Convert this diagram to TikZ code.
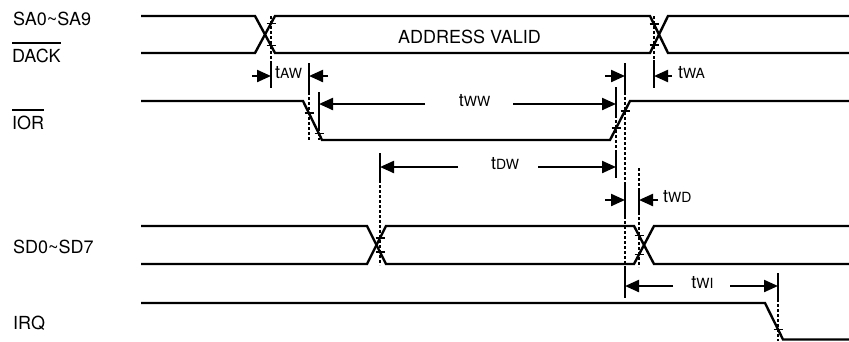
\documentclass[tikz,border=0pt]{standalone}
\usepackage{fontspec}
\setmainfont{TeX Gyre Heros}
\usetikzlibrary{arrows.meta}
\newcommand\tlab[1]{t{\fontsize{14}{14}\selectfont #1}}
\newcommand\ovl[1]{\vbox{\hrule height 1.6pt \kern 4.5pt \hbox{#1}}}
\begin{document}
\begin{tikzpicture}[x=1pt,y=-1pt,
  sig/.style={line width=2.4pt},
  ext/.style={line width=2pt},
  dsh/.style={line width=1.6pt, dash pattern=on 3pt off 2pt},
  arr/.style={line width=2.2pt, -{Triangle[length=14pt,width=12pt]}},
  tk/.style={line width=1.7pt},
  lab/.style={inner sep=0pt, font=\fontsize{18}{20}\selectfont},
  tlb/.style={inner sep=0pt, font=\fontsize{18}{18}\selectfont}]
\useasboundingbox (0,0) rectangle (849,341);
% signal labels
\node[lab, anchor=base west] (sa) at (13,25) {SA0\textasciitilde SA9};
\node[lab, anchor=base west] (dack) at (12,62) {\ovl{DACK}};
\node[lab, anchor=base west] (ior) at (12,129) {\ovl{IOR}};
\node[lab, anchor=base west] (sd) at (13,253) {SD0\textasciitilde SD7};
\node[lab, anchor=base west] (irq) at (13,329) {IRQ};
\node[lab, anchor=base] (addr) at (469.5,43) {ADDRESS VALID};
% signals
\draw[sig] (141,16) -- (255,16) -- (275,53) -- (650,53) -- (668,16) -- (849,16);
\draw[sig] (141,53) -- (255,53) -- (275,16) -- (650,16) -- (668,53) -- (849,53);
\draw[sig] (141,101) -- (303,101) -- (322,140) -- (610,140) -- (630,101) -- (849,101);
\draw[sig] (141,226) -- (367,226) -- (386,264) -- (634,264) -- (654,226) -- (849,226);
\draw[sig] (141,264) -- (367,264) -- (386,226) -- (634,226) -- (654,264) -- (849,264);
\draw[sig] (141,303) -- (765,303) -- (783,339.5) -- (849,339.5);
% ticks
\foreach \x/\y in {271/23.4, 271/45.6, 654/24.2, 654/44.8, 309/113.3, 319/133.5,
  616/128.3, 625/110.8, 380/238, 380/252, 639/235.5, 639/254.5, 778/329.4}
  \draw[tk] (\x-4.5,\y) -- (\x+4.5,\y);
% extension lines
\draw[dsh] (271,16) -- (271,62); \draw[ext] (271,62) -- (271,88);
\draw[ext] (309,63) -- (309,92); \draw[dsh] (309,92) -- (309,140);
\draw[ext] (319,92) -- (319,128); \draw[dsh] (319,128) -- (319,140);
\draw[ext] (616,87) -- (616,115); \draw[dsh] (616,115) -- (616,152); \draw[ext] (616,152) -- (616,178);
\draw[ext] (625,63) -- (625,92); \draw[dsh] (625,92) -- (625,183); \draw[ext] (625,183) -- (625,216);
\draw[dsh] (625,216) -- (625,268); \draw[ext] (625,268) -- (625,298);
\draw[dsh] (654,16) -- (654,60); \draw[ext] (654,60) -- (654,88);
\draw[ext] (380,153) -- (380,180); \draw[dsh] (380,180) -- (380,265);
\draw[dsh] (639,168) -- (639,190); \draw[ext] (639,190) -- (639,212); \draw[dsh] (639,212) -- (639,267);
\draw[ext] (778,273) -- (778,299); \draw[dsh] (778,299) -- (778,341);
% timing labels
\node[tlb, anchor=mid west] (taw) at (275,76) {\tlab{AW}};
\node[tlb, anchor=mid] (tww) at (474.5,104) {\tlab{WW}};
\node[tlb, anchor=mid west] (twa) at (678,76) {\tlab{WA}};
\node[tlb, anchor=mid] (tdw) at (505,167) {\tlab{DW}};
\node[tlb, anchor=mid west] (twd) at (663,200) {\tlab{WD}};
\node[tlb, anchor=mid] (twi) at (702.5,286) {\tlab{WI}};
% arrows
\draw[arr] (252,76) -- (271,76); \draw[arr] (328,76) -- (309,76);
\draw[arr] (425,104) -- (319,104); \draw[arr] (513,104) -- (616,104);
\draw[arr] (605,76) -- (625,76); \draw[arr] (672,76) -- (654,76);
\draw[arr] (458,167) -- (380,167); \draw[arr] (538,167) -- (616,167);
\draw[arr] (605,200) -- (625,200); \draw[arr] (658,200) -- (639,200);
\draw[arr] (673,286) -- (625,286); \draw[arr] (730,286) -- (778,286);
\end{tikzpicture}
\end{document}
